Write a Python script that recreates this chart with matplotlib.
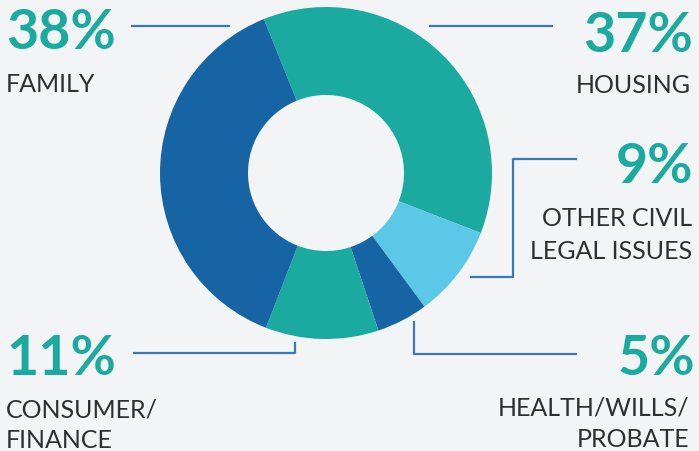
import matplotlib.pyplot as plt

# Donut data, clockwise from the top-left boundary
categories = ['HOUSING', 'OTHER CIVIL\nLEGAL ISSUES', 'HEALTH/WILLS/\nPROBATE', 'CONSUMER/\nFINANCE', 'FAMILY']
shares = [37, 9, 5, 11, 38]
slice_colors = ['#1baa9f', '#5bc8e8', '#1764a5', '#1baa9f', '#1764a5']

BG = '#f3f4f6'
TEAL = '#1baa9f'
LINE = '#3b78b9'
TXT = '#2f2f2f'
H = 451  # image height in px, used to flip y

fig = plt.figure(figsize=(6.99, 4.51), dpi=100, facecolor=BG)
ax = fig.add_axes([0, 0, 1, 1])
ax.set_facecolor(BG)

ax.pie(shares, colors=slice_colors, startangle=112, counterclock=False,
       center=(326, H - 173), radius=166,
       wedgeprops=dict(width=88, edgecolor='none'))

ax.set_xlim(0, 699)
ax.set_ylim(0, H)
ax.set_aspect('equal')
ax.axis('off')


def leader(xs, ys):
    ax.plot(xs, [H - y for y in ys], color=LINE, lw=1.6, solid_capstyle='butt')


leader([131, 230], [26, 26])                       # family
leader([429, 553], [26, 26])                       # housing
leader([577, 513, 513, 470], [159, 159, 277, 277])  # other civil
leader([133, 295, 295], [353, 353, 342])           # consumer
leader([414, 414, 577], [321, 354, 354])           # health


def pct(x, y, s, ha):
    ax.text(x, H - y, s, ha=ha, va='baseline', color=TEAL,
            fontsize=40, fontweight='bold', family='Lato')


def lab(x, y, s, ha, gap=33):
    # one text per line so each baseline sits where the reference has it
    for i, line in enumerate(s.split('\n')):
        ax.text(x, H - (y + i * gap), line, ha=ha, va='baseline', color=TXT,
                fontsize=18, fontweight='normal', family='Lato')


pct(6, 49, f'{shares[4]}%', 'left')
lab(6, 92, categories[4], 'left')

pct(693, 52, f'{shares[0]}%', 'right')
lab(691, 93, categories[0], 'right')

pct(693, 183, f'{shares[1]}%', 'right')
lab(692, 226, categories[1], 'right')

pct(6, 375, f'{shares[3]}%', 'left')
lab(6, 417, categories[3], 'left', gap=31)

pct(695, 375, f'{shares[2]}%', 'right')
lab(689, 416, categories[2], 'right', gap=31)

fig.savefig('out.png', dpi=100, facecolor=BG)
